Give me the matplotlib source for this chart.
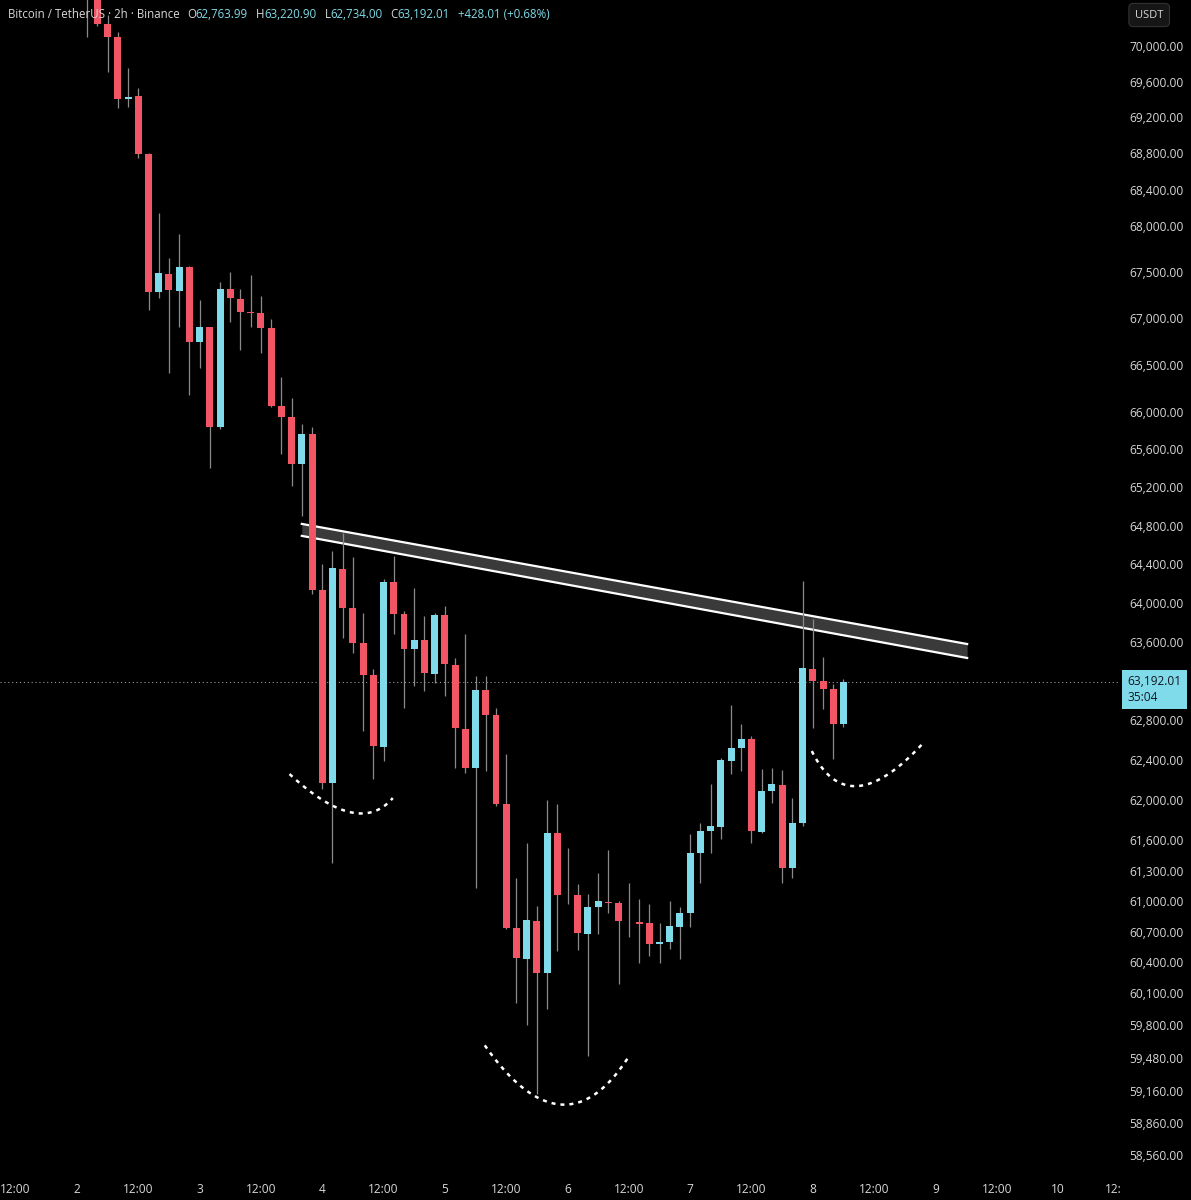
import numpy as np
import matplotlib
matplotlib.use("Agg")
import matplotlib.pyplot as plt
from matplotlib.ticker import NullLocator
from matplotlib.transforms import blended_transform_factory

plt.rcParams['font.family'] = ['Open Sans', 'DejaVu Sans']

# BTC/USDT 2h candles, x = candle number counted from day 2 00:00
idx = np.arange(1, 76)
opens = [70750, 70600, 70249, 70102, 69404, 69438, 68792, 67278, 67474, 67289,
         67550, 66740, 66900, 65832, 67311, 67203, 67066, 67051, 66890, 66065,
         65948, 65448, 65758, 64132, 62170, 64350, 63947, 63588, 63261, 62532,
         64215, 63885, 63526, 63618, 63271, 63875, 63363, 62713, 62320, 63108,
         62855, 61960, 60734, 60431, 60803, 60295, 61670, 61062, 61058, 60676,
         60940, 60989, 60979, 60806, 60790, 60783, 60578, 60597, 60744, 60881,
         61472, 61690, 61730, 62391, 62522, 62612, 61680, 62090, 62150, 61324,
         61770, 63322, 63200, 63118, 62763.99]
highs = [70900, 70650, 70350, 70158, 69752, 69527, 68800, 68141, 67648, 67910,
         67560, 67192, 66910, 67387, 67495, 67311, 67463, 67235, 66987, 66364,
         66150, 65864, 65832, 64402, 64537, 64724, 64475, 63895, 63322, 64247,
         64485, 63916, 64153, 63864, 63895, 63967, 63434, 63680, 63251, 63251,
         62925, 62461, 61225, 61571, 60950, 62000, 61960, 61522, 61166, 61068,
         61274, 61502, 60999, 61176, 61019, 60970, 60783, 60999, 60940, 61660,
         61770, 62160, 62421, 62956, 62764, 62643, 62310, 62320, 62300, 62020,
         64226, 63834, 63444, 63169, 63220.90]
lows = [70102, 70230, 69707, 69304, 69315, 68747, 67084, 67214, 66407, 66900,
        66172, 66460, 65406, 65820, 66954, 66654, 66900, 66622, 66050, 65556,
        65216, 64902, 64091, 62110, 61373, 63639, 63485, 62693, 62210, 62391,
        63680, 62925, 63149, 63098, 63180, 63047, 62320, 62270, 61127, 62290,
        61940, 60725, 60005, 59792, 59131, 59947, 60509, 60970, 60519, 59494,
        60676, 60881, 60188, 60646, 60392, 60460, 60392, 60529, 60431, 60744,
        61176, 61472, 61611, 62260, 62290, 61571, 61670, 61970, 61176, 61225,
        61740, 62723, 62915, 62411, 62734.00]
closes = [70600, 70249, 70102, 69404, 69427, 68792, 67278, 67484, 67300, 67550,
          66740, 66900, 65832, 67311, 67214, 67062, 67060, 66890, 66065, 65948,
          65448, 65758, 64132, 62170, 64360, 63947, 63588, 63261, 62542, 64215,
          63885, 63526, 63618, 63282, 63875, 63373, 62723, 62320, 63108, 62855,
          61960, 60734, 60441, 60813, 60295, 61670, 61058, 61055, 60686, 60940,
          60999, 60979, 60803, 60800, 60780, 60578, 60597, 60754, 60881, 61472,
          61690, 61740, 62401, 62522, 62612, 61690, 62090, 62160, 61324, 61770,
          63332, 63200, 63118, 62764, 63192.01]

time_ticks = list(range(-6, 97, 6))
time_labels = ["12:00", "2", "12:00", "3", "12:00", "4", "12:00", "5", "12:00",
               "6", "12:00", "7", "12:00", "8", "12:00", "9", "12:00", "10"]
price_ticks = [70000, 69600, 69200, 68800, 68400, 68000, 67500, 67000, 66500,
               66000, 65600, 65200, 64800, 64400, 64000, 63600, 62800, 62400,
               62000, 61600, 61300, 61000, 60700, 60400, 60100, 59800, 59480,
               59160, 58860, 58560]

# descending channel drawing
chan_x = [22.0, 87.1]
chan_upper = [64818, 63577]
chan_lower = [64693, 63434]

# dotted arcs under the shoulders / head: start, middle, end
arcs = [
    [(20.8, 62260), (26.7, 61880), (30.9, 62020)],
    [(39.9, 59600), (47.3, 59035), (54.0, 59494)],
    [(71.9, 62491), (76.4, 62140), (82.8, 62572)],
]

W, H = 1191, 1200
up_col = '#7fdbe9'
dn_col = '#f25563'
txt_col = '#d8d8d8'

fig = plt.figure(figsize=(W / 100, H / 100), dpi=100, facecolor='black')
ax = fig.add_axes([0, 1 - 1172 / H, 1118 / W, 1172 / H], facecolor='black')
ax.set_yscale('log')

o = np.array(opens)
c = np.array(closes)
hi = np.array(highs)
lo = np.array(lows)
cols = [up_col if cc >= oo else dn_col for oo, cc in zip(o, c)]

# channel below candles
ax.fill_between(chan_x, chan_lower, chan_upper, color='#3a3a3a', zorder=1, lw=0)
ax.plot(chan_x, chan_upper, color='white', lw=1.6, zorder=1.5)
ax.plot(chan_x, chan_lower, color='white', lw=1.6, zorder=1.5)

ax.vlines(idx, lo, hi, color='#8a8a8a', lw=0.9, zorder=2)
body = np.maximum(np.abs(c - o), 9)
ax.bar(idx, body, bottom=np.minimum(o, c), width=0.68, color=cols, lw=0, zorder=3)

for p0, m, p2 in arcs:
    P0 = np.array([p0[0], np.log(p0[1])])
    M = np.array([m[0], np.log(m[1])])
    P2 = np.array([p2[0], np.log(p2[1])])
    P1 = 2 * M - (P0 + P2) / 2
    t = np.linspace(0, 1, 60)[:, None]
    pts = (1 - t) ** 2 * P0 + 2 * (1 - t) * t * P1 + t ** 2 * P2
    ax.plot(pts[:, 0], np.exp(pts[:, 1]), color='white', lw=1.8,
            linestyle=(0, (1.6, 2.0)), zorder=4)

# current price line
last = closes[-1]
ax.axhline(last, color='#9a9a9a', lw=0.8, linestyle=(0, (1, 2.5)), zorder=1)

ax.set_xlim(-7.53, 101.86)
ax.set_ylim(58397, 70521)
for s in ax.spines.values():
    s.set_visible(False)

ax.yaxis.tick_right()
ax.set_yticks(price_ticks, [f"{v:,.2f}" for v in price_ticks])
ax.yaxis.set_minor_locator(NullLocator())
ax.tick_params(axis='y', length=0, pad=8, labelsize=8.6, labelcolor=txt_col)
ax.set_xticks(time_ticks, time_labels)
ax.tick_params(axis='x', length=0, pad=8, labelsize=8.6, labelcolor=txt_col)

trans = blended_transform_factory(ax.transData, ax.transAxes)
ax.annotate("12:", xy=(102, 0), xycoords=trans, xytext=(-10.5, -8),
            textcoords='offset points', ha='left', va='top', fontsize=8.6,
            color=txt_col, annotation_clip=False)

# price label on the axis
ax.annotate(f"{last:,.2f}\n35:04", xy=(1, last),
            xycoords=('axes fraction', 'data'), xytext=(6.5, 4.8),
            textcoords='offset points', ha='left', va='top', fontsize=8.6,
            color='#131722', linespacing=1.25, annotation_clip=False,
            bbox=dict(boxstyle='square,pad=0.45', fc=up_col, ec='none'))

fig.text(1135 / W, 1 - 15 / H, "USDT", fontsize=8, color=txt_col, va='center',
         ha='left',
         bbox=dict(boxstyle='round,pad=0.55,rounding_size=0.4', fc='#161616',
                   ec='#333333', lw=0.8))

# header line
renderer = fig.canvas.get_renderer()
pieces = [("Bitcoin / TetherUS · 2h · Binance", txt_col, 7),
          ("O", txt_col, 0), ("62,763.99", up_col, 8),
          ("H", txt_col, 0), ("63,220.90", up_col, 8),
          ("L", txt_col, 0), ("62,734.00", up_col, 8),
          ("C", txt_col, 0), ("63,192.01", up_col, 8),
          ("+428.01 (+0.68%)", up_col, 0)]
x = 8
for s, col, gap in pieces:
    t = fig.text(x / W, 1 - 14 / H, s, color=col, fontsize=8.3, va='center',
                 ha='left')
    bb = t.get_window_extent(renderer)
    x = bb.x1 + gap

fig.savefig("out.png", dpi=100, facecolor='black')
